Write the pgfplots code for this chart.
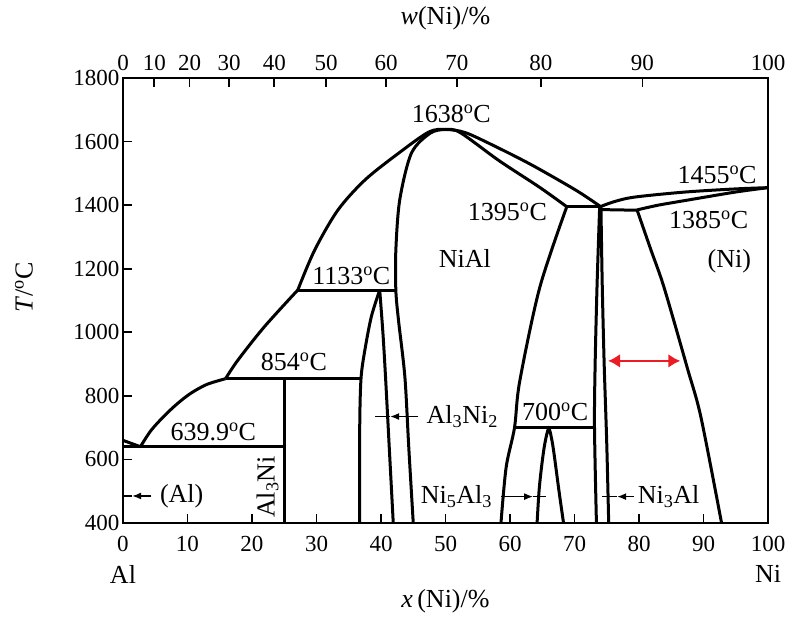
\documentclass[border=0pt]{standalone}
\usepackage{pgfplots}
\pgfplotsset{compat=1.18}
\usepackage{fontspec}
\setmainfont{Liberation Serif}
\usetikzlibrary{arrows.meta}
\definecolor{arrowred}{RGB}{236,28,36}
\newcommand{\lab}{\fontsize{26}{30}\selectfont}
\newcommand{\tck}{\fontsize{23}{27}\selectfont}
\newcommand{\dg}{\textsuperscript{o}C}

\begin{document}
\begin{tikzpicture}[x=1pt,y=1pt]
\path[use as bounding box] (-123,-93) rectangle (669,523);
% main axis: x(Ni) at.% and temperature
\begin{axis}[
  at={(0,0)}, anchor=south west,
  scale only axis, width=645pt, height=445pt,
  xmin=0, xmax=100, ymin=400, ymax=1800,
  xtick={0,10,...,100}, ytick={400,600,...,1800},
  xtick pos=bottom, ytick pos=left,
  tick align=inside, major tick length=9pt,
  every tick/.style={black, line width=1.8pt},
  axis line style={line width=2.4pt},
  tick label style={font=\tck},
  xticklabel style={yshift=-10pt},
  /pgf/number format/assume math mode=true,
  /pgf/number format/1000 sep={},
  clip=false,
  every axis plot/.append style={black, line width=3pt, no marks},
]
% liquidus, Al side
\addplot[sharp plot] coordinates {(0,660) (2.7,640)};
\addplot[smooth] coordinates {(2.7,640) (4.3,690) (6.3,735) (8.4,775) (10.5,808) (13.0,836) (15.9,854)};
\addplot[smooth] coordinates {(15.9,854) (17.8,912) (21.9,1017) (27.1,1133)};
\addplot[smooth] coordinates {(27.1,1133) (29.7,1258) (33.3,1384) (37.5,1479) (42.7,1563) (47.4,1630) (50,1638) (53.1,1628) (58,1582) (63.5,1525) (70.3,1446) (74,1396)};
% NiAl boundaries
\addplot[smooth] coordinates {(45,400) (44.3,640) (43.7,860) (42.7,1040) (42.3,1133) (42.3,1258) (42.9,1416) (44.7,1563) (47.6,1626) (50,1638) (52.3,1628) (58.3,1540) (64.6,1456) (68.8,1395)};
\addplot[smooth] coordinates {(68.8,1395) (64.6,1140) (61.5,845) (60.7,700) (59.4,575) (58.6,400)};
% invariant lines
\addplot[sharp plot] coordinates {(0,640) (25,640)};
\addplot[sharp plot] coordinates {(15.9,854) (36.9,854)};
\addplot[sharp plot] coordinates {(27.1,1133) (42.3,1133)};
\addplot[sharp plot] coordinates {(60.7,700) (73.1,700)};
\addplot[sharp plot] coordinates {(68.8,1395) (74,1395)};
\addplot[sharp plot] coordinates {(74.1,1386) (79.7,1384)};
% Al3Ni
\addplot[sharp plot] coordinates {(25,400) (25,854)};
% Al3Ni2
\addplot[smooth] coordinates {(36.7,400) (36.7,700) (36.9,854) (37.5,944) (38.5,1049) (39.8,1133)};
\addplot[smooth] coordinates {(39.8,1133) (40.3,997) (40.7,860) (41.3,630) (41.9,400)};
% Ni5Al3
\addplot[smooth] coordinates {(64.2,400) (64.5,500) (64.9,578) (65.4,650) (66,697) (66.5,660) (66.9,607) (67.6,500) (68.3,400)};
% Ni3Al
\addplot[smooth] coordinates {(73.9,1395) (73.5,1150) (73.2,900) (73.1,700) (73.4,400)};
\addplot[smooth] coordinates {(74.1,1395) (74.3,1150) (74.6,900) (75.0,650) (75.3,400)};
% Ni side liquidus / solidus / solvus
\addplot[smooth] coordinates {(74,1395) (76,1410) (79.2,1425) (87,1441) (94.9,1451) (100,1455)};
\addplot[smooth] coordinates {(79.7,1385) (83,1400) (87,1414) (94.9,1441) (100,1455)};
\addplot[smooth] coordinates {(79.7,1385) (81.8,1262) (83.9,1140) (87.5,887) (89.6,733) (92.8,400)};
% pointer arrows
\addplot[line width=1.6pt, -{Latex[length=9pt,width=7pt]}] coordinates {(4.4,485) (1.4,485)};
\addplot[line width=1.6pt] coordinates {(1.4,485) (0,485)};
\addplot[line width=1.6pt, -{Latex[length=9pt,width=7pt]}] coordinates {(45.8,735) (41.4,735)};
\addplot[line width=1.6pt] coordinates {(41.4,735) (39.0,735)};
\addplot[line width=1.6pt, -{Latex[length=9pt,width=7pt]}] coordinates {(58.6,483) (63.6,483)};
\addplot[line width=1.6pt] coordinates {(63.6,483) (65.6,483)};
\addplot[line width=1.6pt, -{Latex[length=9pt,width=7pt]}] coordinates {(79.2,483) (76.6,483)};
\addplot[line width=1.6pt] coordinates {(76.6,483) (74.3,483)};
\addplot[arrowred, line width=2.6pt, {Latex[length=12pt,width=14pt]}-{Latex[length=12pt,width=14pt]}] coordinates {(75.2,910) (86.4,910)};
% labels
\node[font=\lab] at (axis cs:50.9,1688) {1638\dg};
\node[font=\lab] at (axis cs:59.6,1379) {1395\dg};
\node[font=\lab] at (axis cs:92.1,1495) {1455\dg};
\node[font=\lab] at (axis cs:90.8,1353) {1385\dg};
\node[font=\lab] at (axis cs:53,1233) {NiAl};
\node[font=\lab] at (axis cs:94,1222) {(Ni)};
\node[font=\lab] at (axis cs:35.4,1178) {1133\dg};
\node[font=\lab] at (axis cs:26.5,907) {854\dg};
\node[font=\lab] at (axis cs:14,688) {639.9\dg};
\node[font=\lab] at (axis cs:67,750) {700\dg};
\node[font=\lab] at (axis cs:52.6,734) {Al\textsubscript{3}Ni\textsubscript{2}};
\node[font=\lab] at (axis cs:51.7,483) {Ni\textsubscript{5}Al\textsubscript{3}};
\node[font=\lab] at (axis cs:84.6,483) {Ni\textsubscript{3}Al};
\node[font=\lab] at (axis cs:9.1,485) {(Al)};
\node[font=\lab, rotate=90] at (axis cs:22.4,513) {Al\textsubscript{3}Ni};
% axis titles
\node[font=\lab] at (rel axis cs:0,0) [yshift=-51pt] {Al};
\node[font=\lab] at (rel axis cs:1,0) [yshift=-51pt] {Ni};
\node[font=\lab] at (rel axis cs:0.5,0) [yshift=-78pt] {\textit{x}\,(Ni)/\%};
\node[font=\lab, xshift=-99pt, rotate=90] at (rel axis cs:0,0.53) {\textit{T}/\dg};
\end{axis}
% top axis: w(Ni) wt.%
\begin{axis}[
  at={(0,0)}, anchor=south west,
  scale only axis, width=645pt, height=445pt,
  xmin=0, xmax=100, ymin=400, ymax=1800,
  axis x line*=top, axis y line=none,
  axis line style={line width=2.4pt, -},
  tick align=inside, major tick length=9pt,
  every tick/.style={black, line width=1.8pt},
  xtick={0,4.86,10.31,16.46,23.46,31.49,40.81,51.75,64.77,80.54,100},
  xticklabels={0,10,20,30,40,50,60,70,80,90,100},
  tick label style={font=\tck},
  xticklabel style={yshift=4pt},
  clip=false,
]
\node[font=\lab] at (rel axis cs:0.5,1) [yshift=60pt] {\textit{w}(Ni)/\%};
\end{axis}
\end{tikzpicture}
\end{document}
